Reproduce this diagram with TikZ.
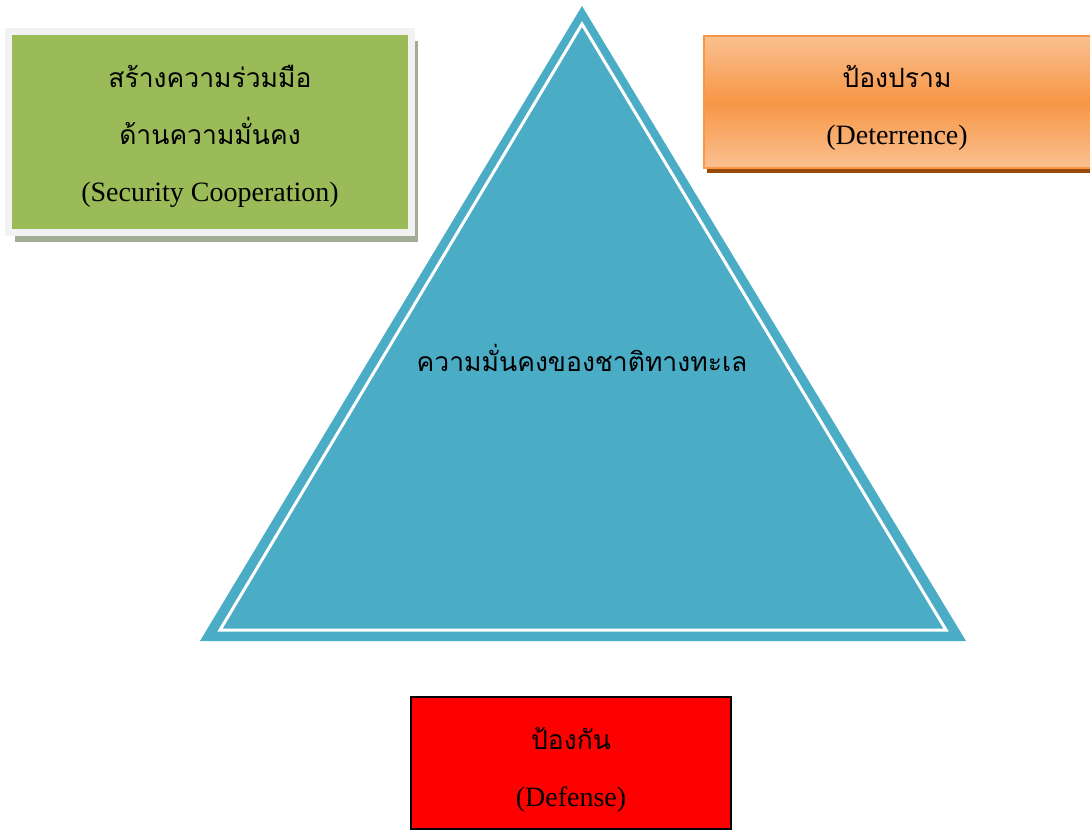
\documentclass[tikz,border=0pt]{standalone}
\usepackage{fontspec}
\setmainfont{Liberation Serif}
\newfontfamily\thaifont[Script=Thai]{Loma}
\usetikzlibrary{shadows}

\definecolor{coopgreen}{HTML}{9BBB59}
\definecolor{coopframe}{HTML}{F2F2F2}
\definecolor{coopshade}{HTML}{A3AC94}
\definecolor{detlight}{HTML}{FAC090}
\definecolor{detmid}{HTML}{F79646}
\definecolor{detshade}{HTML}{984807}
\definecolor{seablue}{HTML}{4BACC6}

\begin{document}
\begin{tikzpicture}[x=1pt,y=-1pt]
    \tikzstyle{box}=[rectangle,inner sep=0pt]
    \tikzstyle{box text}=[align=center,inner sep=0pt,font=\fontsize{28}{57}\selectfont]
    \tikzstyle{coop box}=[box,fill=coopgreen,draw=coopframe,line width=7pt,
        minimum width=403pt,minimum height=201pt,
        drop shadow={shadow xshift=6.5pt,shadow yshift=-10pt,fill=coopshade,opacity=1}]
    \tikzstyle{det box}=[box,draw=detmid,line width=2pt,
        top color=detlight,bottom color=detlight,middle color=detmid,
        minimum width=400pt,minimum height=132pt,
        drop shadow={shadow xshift=3pt,shadow yshift=-5pt,fill=detshade,opacity=1}]
    \tikzstyle{def box}=[box,fill=red,draw=black,line width=1.5pt,
        minimum width=320pt,minimum height=132pt]
    \newcommand{\thai}[1]{{\thaifont\fontsize{26.5}{57}\selectfont #1}}

    \useasboundingbox (0,0) rectangle (1090,830);

    % triangle
    \coordinate (top) at (582,6);
    \coordinate (left) at (200,641);
    \coordinate (right) at (966,641);
    \coordinate (itop) at (582,24);
    \coordinate (ileft) at (220,630);
    \coordinate (iright) at (946,630);
    \fill[seablue] (top) -- (left) -- (right) -- cycle;
    \draw[white,line width=3pt,line join=miter] (itop) -- (ileft) -- (iright) -- cycle;
    \node(core) at (582,358) {\thai{ความมั่นคงของชาติทางทะเล}};

    % boxes
    \node(coop)[coop box] at (210,131.5) {};
    \node(det)[det box] at (904,102) {};
    \node(def)[def box] at (571,763) {};

    \node(coop text)[box text] at ([yshift=-5pt]coop.center)
        {\thai{สร้างความร่วมมือ}\\\thai{ด้านความมั่นคง}\\(Security Cooperation)};
    \node(det text)[box text] at ([xshift=-7pt,yshift=-6pt]det.center)
        {\thai{ป้องปราม}\\(Deterrence)};
    \node(def text)[box text] at ([yshift=-7pt]def.center)
        {\thai{ป้องกัน}\\(Defense)};
\end{tikzpicture}
\end{document}
